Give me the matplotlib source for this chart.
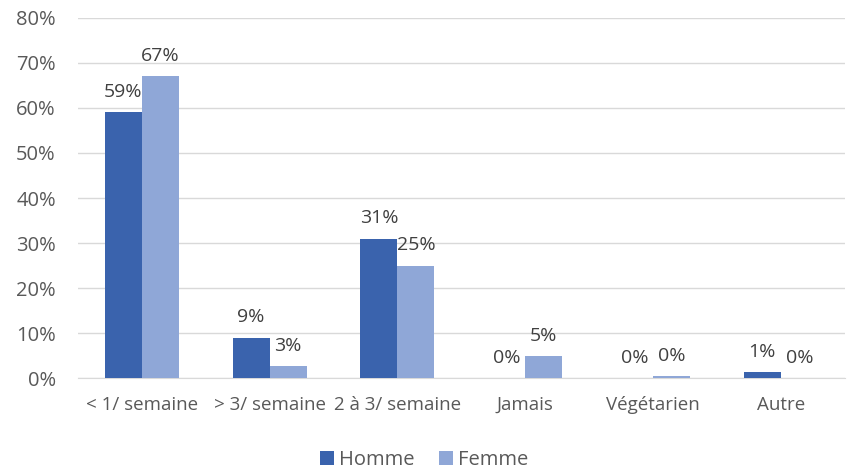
import numpy as np
import matplotlib.pyplot as plt
from matplotlib.ticker import PercentFormatter

categories = ["< 1/ semaine", "> 3/ semaine", "2 à 3/ semaine", "Jamais", "Végétarien", "Autre"]
homme = [59, 9, 31, 0, 0, 1.3]
femme = [67, 2.7, 25, 4.8, 0.4, 0]

c_homme = "#3a63ad"
c_femme = "#8fa7d7"
txt = "#595959"

plt.rcParams['font.family'] = ['Open Sans', 'DejaVu Sans']

fig = plt.figure(figsize=(8.48, 4.72), dpi=100)
ax = fig.add_axes([0.092, 0.199, 0.904, 0.763])

x = np.arange(len(categories))
w = 0.29
b1 = ax.bar(x - w / 2, homme, w, color=c_homme, label="Homme", zorder=3)
b2 = ax.bar(x + w / 2, femme, w, color=c_femme, label="Femme", zorder=3)

for bars, vals in ((b1, homme), (b2, femme)):
    for b, v in zip(bars, vals):
        ax.annotate("{:.0f}%".format(v), (b.get_x() + b.get_width() / 2, v),
                    xytext=(0, 8), textcoords="offset points",
                    ha="center", va="bottom", fontsize=14, color="#404040")

ax.set_xlim(-0.5, len(categories) - 0.5)
ax.set_ylim(0, 80)
ax.set_yticks(range(0, 81, 10))
ax.yaxis.set_major_formatter(PercentFormatter(decimals=0))
ax.set_xticks(x)
ax.set_xticklabels(categories)
ax.tick_params(axis="both", length=0, colors=txt)
ax.tick_params(axis="y", labelsize=14.5, pad=16)
ax.tick_params(axis="x", labelsize=13.5, pad=13)
ax.grid(axis="y", color="#d9d9d9", linewidth=1, zorder=0)
for s in ["top", "right", "left"]:
    ax.spines[s].set_visible(False)
ax.spines["bottom"].set_color("#d9d9d9")

fig.legend(loc="lower center", ncol=2, frameon=False, fontsize=14.5,
           bbox_to_anchor=(0.5, -0.035), handlelength=0.7, handleheight=0.7,
           handletextpad=0.25, columnspacing=1.2, labelcolor=txt)

fig.savefig("out.png", dpi=100)
